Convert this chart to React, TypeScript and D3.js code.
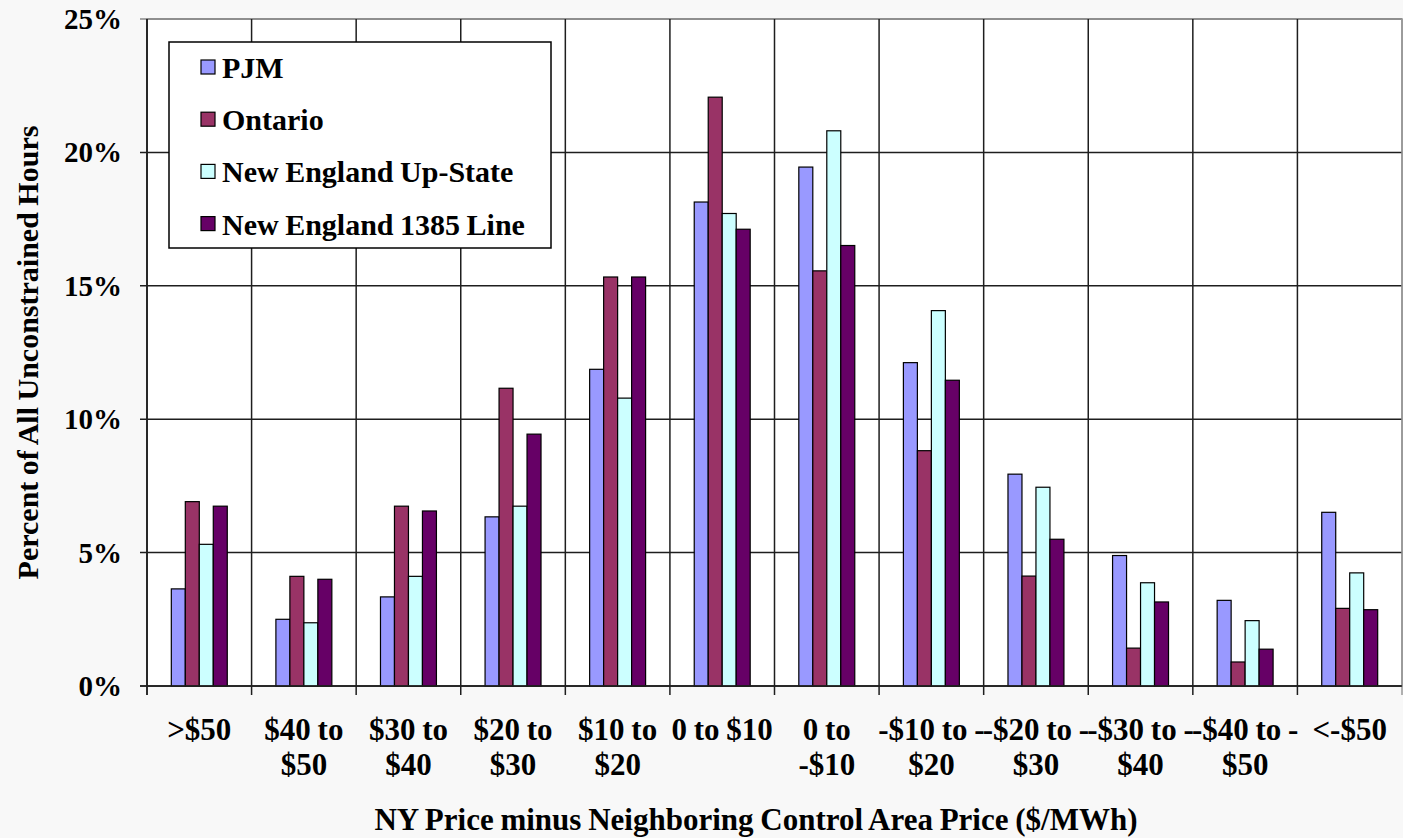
import React from "react";
import * as d3 from "d3";

const categories: string[][] = [
  [">$50"],
  ["$40 to", "$50"],
  ["$30 to", "$40"],
  ["$20 to", "$30"],
  ["$10 to", "$20"],
  ["0 to $10"],
  ["0 to", "-$10"],
  ["-$10 to -", "$20"],
  ["-$20 to -", "$30"],
  ["-$30 to -", "$40"],
  ["-$40 to -", "$50"],
  ["<-$50"],
];

const seriesNames = ["PJM", "Ontario", "New England Up-State", "New England 1385 Line"];
const seriesColors = ["#9999FF", "#993366", "#CCFFFF", "#660066"];

const pjm = [3.64, 2.5, 3.34, 6.34, 11.87, 18.14, 19.45, 12.12, 7.94, 4.89, 3.21, 6.51];
const ontario = [6.91, 4.11, 6.74, 11.16, 15.33, 22.07, 15.56, 8.82, 4.12, 1.42, 0.9, 2.91];
const neUpState = [5.31, 2.37, 4.11, 6.74, 10.79, 17.71, 20.81, 14.07, 7.45, 3.87, 2.45, 4.24];
const ne1385 = [6.74, 4.0, 6.56, 9.44, 15.33, 17.12, 16.51, 11.46, 5.5, 3.15, 1.38, 2.86];

const seriesValues = [pjm, ontario, neUpState, ne1385];
const yTicks = [0, 5, 10, 15, 20, 25];

const W = 1403;
const H = 838;
const plot = { left: 147, right: 1402, top: 19, bottom: 686 };
const FONT = "'Liberation Serif', 'Times New Roman', serif";

export default function App() {
  const x = d3
    .scaleBand<number>()
    .domain(d3.range(categories.length))
    .range([plot.left, plot.right])
    .paddingInner(0)
    .paddingOuter(0);
  const y = d3.scaleLinear().domain([0, 25]).range([plot.bottom, plot.top]);
  const groupW = x.bandwidth() * 0.535;
  const sub = d3
    .scaleBand<number>()
    .domain(d3.range(seriesNames.length))
    .range([0, groupW]);
  const gridColor = "#1e1e1e";

  const boundaries = d3.range(categories.length + 1).map((i) =>
    i < categories.length ? (x(i) as number) : plot.right
  );

  return (
    <svg
      width={W}
      height={H}
      style={{ position: "absolute", left: 0, top: 0 }}
      fontFamily={FONT}
      fontWeight="bold"
    >
      <rect x={0} y={0} width={W} height={H} fill="#f8f8f8" />
      <rect
        x={plot.left}
        y={plot.top}
        width={plot.right - plot.left}
        height={plot.bottom - plot.top}
        fill="#ffffff"
        stroke="#888"
        strokeWidth={1.5}
      />
      {/* horizontal gridlines */}
      {yTicks.map((t) => (
        <line
          key={"h" + t}
          x1={plot.left - 7}
          x2={plot.right}
          y1={y(t)}
          y2={y(t)}
          stroke={t === 25 ? "#888" : gridColor}
          strokeWidth={1.5}
        />
      ))}
      {/* vertical gridlines */}
      {boundaries.map((bx, i) => (
        <line
          key={"v" + i}
          x1={bx}
          x2={bx}
          y1={plot.top}
          y2={plot.bottom + 9}
          stroke={i === categories.length ? "#999" : gridColor}
          strokeWidth={1.5}
        />
      ))}
      {/* bars */}
      {categories.map((_, ci) => {
        const gx = (x(ci) as number) + (x.bandwidth() - groupW) / 2;
        return seriesValues.map((vals, si) => (
          <rect
            key={ci + "-" + si}
            x={gx + (sub(si) as number)}
            y={y(vals[ci])}
            width={sub.bandwidth()}
            height={y(0) - y(vals[ci])}
            fill={seriesColors[si]}
            stroke="#000"
            strokeWidth={1.2}
          />
        ));
      })}
      {/* axes lines */}
      <line x1={plot.left} x2={plot.left} y1={plot.top} y2={plot.bottom + 9} stroke="#222" strokeWidth={1.5} />
      <line x1={plot.left - 7} x2={plot.right} y1={plot.bottom} y2={plot.bottom} stroke="#222" strokeWidth={1.5} />
      {/* y tick labels */}
      {yTicks.map((t) => (
        <text
          key={"yt" + t}
          x={122}
          y={y(t) + 10}
          textAnchor="end"
          fontSize={29}
          fill="#000"
        >
          {t + "%"}
        </text>
      ))}
      {/* x tick labels */}
      {categories.map((lines, ci) => (
        <text
          key={"xt" + ci}
          x={(x(ci) as number) + x.bandwidth() / 2}
          y={740}
          textAnchor="middle"
          fontSize={31}
          wordSpacing={-1}
          fill="#000"
        >
          {lines.map((ln, li) => (
            <tspan key={li} x={(x(ci) as number) + x.bandwidth() / 2} dy={li === 0 ? 0 : 35}>
              {ln}
            </tspan>
          ))}
        </text>
      ))}
      {/* axis titles */}
      <text x={756} y={830} textAnchor="middle" fontSize={31} wordSpacing={-1} fill="#000">
        NY Price minus Neighboring Control Area Price ($/MWh)
      </text>
      <text
        transform={`translate(38, ${(plot.top + plot.bottom) / 2}) rotate(-90)`}
        textAnchor="middle"
        fontSize={30}
        wordSpacing={-1}
        fill="#000"
      >
        Percent of All Unconstrained Hours
      </text>
      {/* legend */}
      <rect x={169} y={42} width={382} height={206} fill="#fff" stroke="#000" strokeWidth={1.5} />
      {seriesNames.map((name, si) => {
        const top = 60 + si * 52.2;
        return (
          <g key={"lg" + si}>
            <rect x={201} y={top} width={14} height={14} fill={seriesColors[si]} stroke="#000" strokeWidth={1.2} />
            <text x={222} y={top + 18} fontSize={30} wordSpacing={-1} fill="#000">
              {name}
            </text>
          </g>
        );
      })}
    </svg>
  );
}
